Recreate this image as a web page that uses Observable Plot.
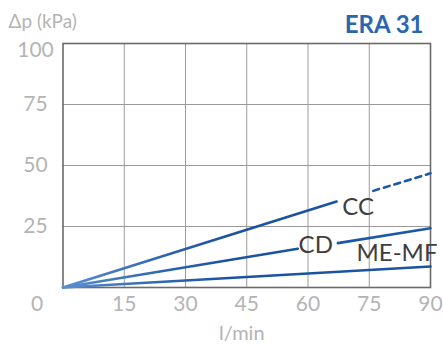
<!DOCTYPE html>
<html><head><meta charset="utf-8">
<script src="https://cdn.jsdelivr.net/npm/d3@7"></script>
<script src="https://cdn.jsdelivr.net/npm/@observablehq/plot@0.6"></script>
<style>body{margin:0;background:#fff;} svg{display:block}</style>
</head><body><div id="chart"></div>
<script>
// tick values
const xTicks = [15, 30, 45, 60, 75, 90];
const yTicks = [25, 50, 75];
const yTop = [100];
// series (flow l/min -> pressure drop kPa)
const ccSolidX = [0, 67], ccSolidY = [0, 35.2];
const ccDashX = [76, 90], ccDashY = [39.6, 46.8];
const cdAX = [0, 57.5], cdAY = [0, 15.9];
const cdBX = [67.3, 90], cdBY = [18.2, 24.3];
const memfX = [0, 90], memfY = [0, 8.6];
// series labels
const labelNames = ["CC", "CD", "ME-MF"];
const labelX = [72.3, 61.9, 81.8];
const labelY = [33, 17.2, 14.0];

const pts = (xs, ys) => xs.map((x, i) => ({x, y: ys[i]}));
const blue = "url(#lineGrad)";
const grey = "#b4b4b4";
const lw = 2.6;

const chart = Plot.plot({
  width: 443, height: 345,
  marginLeft: 62.5, marginRight: 13, marginTop: 43, marginBottom: 58,
  style: {fontFamily: "Lato, sans-serif", background: "#fff"},
  x: {domain: [0, 90], axis: null},
  y: {domain: [0, 100], axis: null},
  marks: [
    Plot.gridX(xTicks.slice(0, -1), {stroke: "#9a9a9a", strokeOpacity: 1, strokeWidth: 1}),
    Plot.gridY(yTicks, {stroke: "#9a9a9a", strokeOpacity: 1, strokeWidth: 1}),
    Plot.frame({stroke: "#6a6a6a", strokeWidth: 1.6}),
    Plot.line(pts(ccSolidX, ccSolidY), {x: "x", y: "y", stroke: blue, strokeWidth: lw}),
    Plot.line(pts(ccDashX, ccDashY), {x: "x", y: "y", stroke: "#1d58a6", strokeWidth: lw, strokeDasharray: "6,5"}),
    Plot.line(pts(cdAX, cdAY), {x: "x", y: "y", stroke: blue, strokeWidth: lw}),
    Plot.line(pts(cdBX, cdBY), {x: "x", y: "y", stroke: "#1d58a6", strokeWidth: lw}),
    Plot.line(pts(memfX, memfY), {x: "x", y: "y", stroke: blue, strokeWidth: lw}),
    Plot.text(labelNames, {x: (d, i) => labelX[i], y: (d, i) => labelY[i], text: d => d,
      fill: "#3e3e3e", fontSize: 24}),
    // tick labels
    Plot.text(xTicks, {x: d => d, frameAnchor: "bottom", lineAnchor: "middle", dy: 17, text: d => String(d),
      fill: grey, fontSize: 21}),
    Plot.text([0], {x: d => d, frameAnchor: "bottom", lineAnchor: "middle", dx: -26, dy: 17, text: d => String(d),
      fill: grey, fontSize: 21}),
    Plot.text(yTicks, {y: d => d, frameAnchor: "left", dx: -27.5, textAnchor: "middle", text: d => String(d),
      fill: grey, fontSize: 21}),
    Plot.text(yTop, {y: d => d, frameAnchor: "left", dx: -27.5, dy: 7, textAnchor: "middle", text: d => String(d),
      fill: grey, fontSize: 21}),
    // titles
    Plot.text(["Δp (kPa)"], {frameAnchor: "top-left", lineAnchor: "middle", dx: -54.5, dy: -22, textAnchor: "start", text: d => d,
      fill: grey, fontSize: 19}),
    Plot.text(["ERA 31"], {frameAnchor: "top-right", lineAnchor: "middle", dx: -7, dy: -18, textAnchor: "end", text: d => d,
      fill: "#2a66b0", fontSize: 24, fontWeight: 700}),
    Plot.text(["l/min"], {frameAnchor: "bottom", lineAnchor: "middle", dx: -5, dy: 46, text: d => d,
      fill: grey, fontSize: 20})
  ]
});
// gradient: lines are lighter near the origin
const ns = "http://www.w3.org/2000/svg";
const defs = document.createElementNS(ns, "defs");
defs.innerHTML = `<linearGradient id="lineGrad" gradientUnits="userSpaceOnUse" x1="62" y1="0" x2="430" y2="0">
  <stop offset="0" stop-color="#5a8ed0"/><stop offset="0.3" stop-color="#2a62ae"/>
  <stop offset="0.45" stop-color="#1a53a0"/><stop offset="1" stop-color="#1a53a0"/></linearGradient>`;
chart.insertBefore(defs, chart.firstChild);
document.getElementById("chart").append(chart);
</script>
</body></html>
